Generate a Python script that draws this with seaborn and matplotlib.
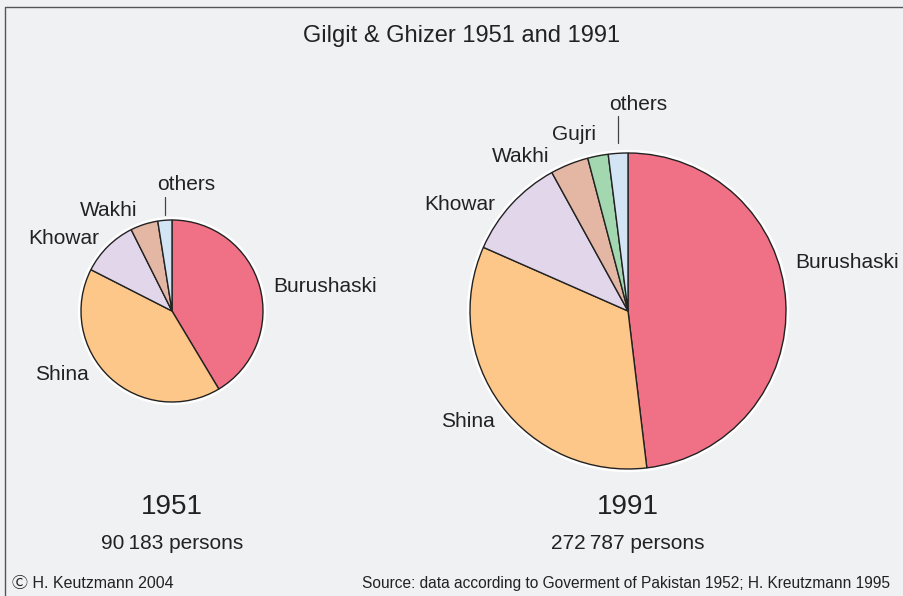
import seaborn as sns
from matplotlib import pyplot as plt
from matplotlib.patches import Circle

# data (share of persons, %)
langs_1951 = ['Burushaski', 'Shina', 'Khowar', 'Wakhi', 'others']
share_1951 = [41.4, 41.1, 10.1, 4.9, 2.5]
langs_1991 = ['Burushaski', 'Shina', 'Khowar', 'Wakhi', 'Gujri', 'others']
share_1991 = [48.1, 33.5, 10.4, 3.9, 2.1, 2.0]
total_1951 = '90\u2009183'
total_1991 = '272\u2009787'

colors = {
    'Burushaski': '#f07185',
    'Shina': '#fdc78a',
    'Khowar': '#e2d6ea',
    'Wakhi': '#e3b7a4',
    'Gujri': '#a3d7b0',
    'others': '#d3e4f4',
}
bg = '#f0f1f3'

sns.set_style('white')
plt.rcParams['font.family'] = ['Liberation Sans', 'DejaVu Sans', 'Noto Sans CJK JP']

fig = plt.figure(figsize=(9.04, 5.96), dpi=100, facecolor=bg)
ax = fig.add_axes([0, 0, 1, 1])
ax.set_facecolor(bg)
# work in pixel units, y pointing down
ax.set_xlim(0, 904)
ax.set_ylim(596, 0)
ax.set_aspect('equal')
ax.axis('off')

# frame (only left and top edges are visible in the crop)
ax.plot([5, 5, 904], [596, 7, 7], color='#555555', lw=1.0)


def draw_pie(langs, share, center, radius):
    # white halo behind the pie
    ax.add_patch(Circle(center, radius + 2.5, color='white', zorder=1))
    wedges, _ = ax.pie(share, colors=[colors[l] for l in langs], center=center,
                       radius=radius, startangle=-90, counterclock=True,
                       wedgeprops=dict(edgecolor='#222222', linewidth=1.0))
    for w in wedges:
        w.set_zorder(2)
    ax.set_xlim(0, 904)
    ax.set_ylim(596, 0)


draw_pie(langs_1951, share_1951, (172, 311), 91)
draw_pie(langs_1991, share_1991, (628, 311), 158)

lab = dict(fontsize=15, color='#222222', va='center')
# 1951 labels
ax.text(273, 287, 'Burushaski', ha='left', **lab)
ax.text(35, 375, 'Shina', ha='left', **lab)
ax.text(28, 238, 'Khowar', ha='left', **lab)
ax.text(80, 211, 'Wakhi', ha='left', **lab)
ax.text(157, 185, 'others', ha='left', **lab)
ax.plot([165, 165], [197, 215], color='#444444', lw=0.9)
# 1991 labels
ax.text(795, 262, 'Burushaski', ha='left', **lab)
ax.text(441, 422, 'Shina', ha='left', **lab)
ax.text(424, 205, 'Khowar', ha='left', **lab)
ax.text(492, 156, 'Wakhi', ha='left', **lab)
ax.text(552, 134, 'Gujri', ha='left', **lab)
ax.text(609, 104, 'others', ha='left', **lab)
ax.plot([618, 618], [116, 143], color='#444444', lw=0.9)

ax.text(462, 36, 'Gilgit & Ghizer 1951 and 1991', ha='center', va='center',
        fontsize=17, color='#222222')

ax.text(172, 507, '1951', ha='center', va='center', fontsize=20, color='#222222')
ax.text(172, 544, total_1951 + ' persons', ha='center', va='center', fontsize=15, color='#222222')
ax.text(628, 507, '1991', ha='center', va='center', fontsize=20, color='#222222')
ax.text(628, 544, total_1991 + ' persons', ha='center', va='center', fontsize=15, color='#222222')

ax.text(12, 584, '\u24b8 H. Keutzmann 2004', ha='left', va='center', fontsize=11.5,
        color='#222222')
ax.text(362, 584, 'Source: data according to Goverment of Pakistan 1952; H. Kreutzmann 1995',
        ha='left', va='center', fontsize=11.2, color='#222222')

fig.savefig('out.png', dpi=100, facecolor=bg)
